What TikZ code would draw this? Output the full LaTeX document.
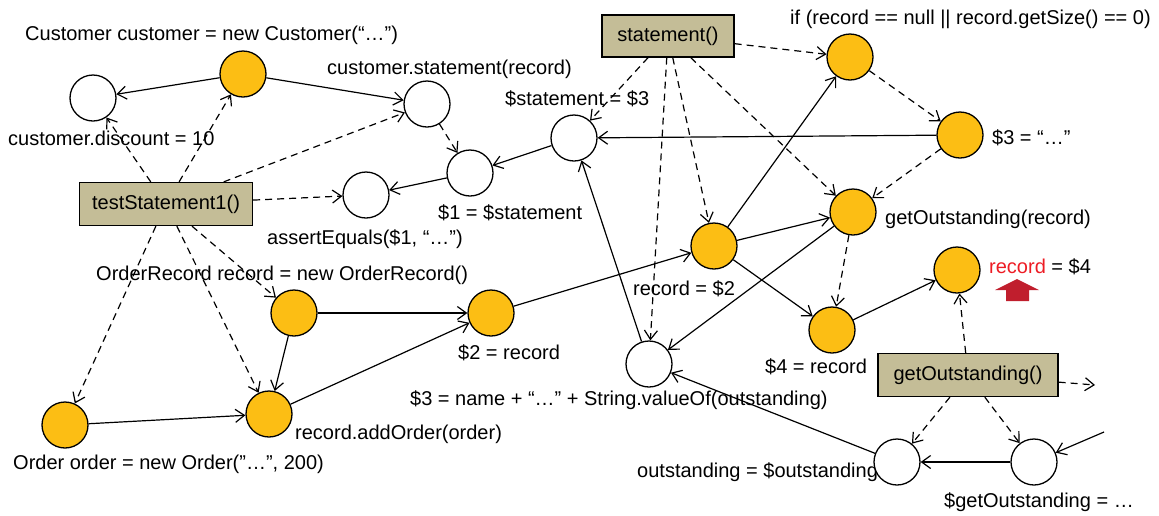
\documentclass[tikz,border=0pt]{standalone}
\usepackage{fontspec}
\setmainfont{Liberation Sans}
\usetikzlibrary{arrows.meta}
\definecolor{orng}{RGB}{252,190,20}
\definecolor{boxtan}{RGB}{196,189,151}
\definecolor{redtxt}{RGB}{237,28,36}
\definecolor{redarr}{RGB}{192,30,45}
\begin{document}
\begin{tikzpicture}[x=1pt,y=-1pt,
  font=\fontsize{20}{24}\selectfont,
  wc/.style={circle,draw,line width=1.3pt,fill=white,minimum size=46pt,inner sep=0pt},
  oc/.style={wc,fill=orng},
  mbox/.style={draw,line width=1.3pt,fill=boxtan,inner sep=0pt,minimum height=43pt},
  lbl/.style={anchor=base west,inner sep=0pt},
  sol/.style={line width=1.2pt,-{Straight Barb[length=9pt,width=13pt]}},
  dsh/.style={sol,dash pattern=on 7pt off 5pt}
]
\useasboundingbox (0,0) rectangle (1159,515);
% labels
\node[lbl] (t1) at (25,40) {Customer customer = new Customer(“…”)};
\node[lbl] (t2) at (8,145) {customer.discount = 10};
\node[lbl] (t3) at (327,74) {customer.statement(record)};
\node[lbl] (t4) at (505,105) {\$statement = \$3};
\node[lbl] (t5) at (438,219) {\$1 = \$statement};
\node[lbl] (t6) at (267,244) {assertEquals(\$1, “…”)};
\node[lbl] (t7) at (790,24) {if (record == null || record.getSize() == 0)};
\node[lbl] (t8) at (992,144) {\$3 = “…”};
\node[lbl] (t9) at (885,224) {getOutstanding(record)};
\node[lbl] (t10) at (96,280) {OrderRecord record = new OrderRecord()};
\node[lbl] (t11) at (458,359) {\$2 = record};
\node[lbl] (t12) at (633,295) {record = \$2};
\node[lbl] (t13) at (295,439) {record.addOrder(order)};
\node[lbl] (t14) at (13,469) {Order order = new Order(”…”, 200)};
\node[lbl] (t15) at (410,405) {\$3 = name + “…” + String.valueOf(outstanding)};
\node[lbl] (t16) at (765,373) {\$4 = record};
\node[lbl] (t17) at (989,273) {\textcolor{redtxt}{record} = \$4};
\node[lbl] (t18) at (637,477) {outstanding = \$outstanding};
\node[lbl] (t19) at (944,507) {\$getOutstanding = …};
% red arrow
\fill[redarr] (995,290) -- (1017,279) -- (1039,290) -- (1029,290) -- (1029,301) -- (1006,301) -- (1006,290) -- cycle;
% circles
\node[wc] (c1) at (93,98) {};
\node[oc] (c2) at (243,74) {};
\node[wc] (c3) at (427,104) {};
\node[wc] (c4) at (470,173) {};
\node[wc] (c5) at (366,195) {};
\node[wc] (c6) at (574,138) {};
\node[oc] (c7) at (294,313) {};
\node[oc] (c8) at (491,313) {};
\node[oc] (c9) at (269,414) {};
\node[oc] (c10) at (65,425) {};
\node[oc] (c11) at (714,246) {};
\node[wc] (c12) at (649,364) {};
\node[oc] (c13) at (850,57) {};
\node[oc] (c14) at (960,135) {};
\node[oc] (c15) at (853,212) {};
\node[oc] (c16) at (832,330) {};
\node[oc] (c17) at (957,270) {};
\node[wc] (c18) at (897,462) {};
\node[wc] (c19) at (1034,462) {};
% boxes
\node[mbox,minimum width=173pt] (b1) at (166,204) {testStatement1()};
\node[mbox,minimum width=132pt,minimum height=42pt] (b2) at (668,36) {statement()};
\node[mbox,minimum width=180pt] (b3) at (968,375) {getOutstanding()};
\coordinate (e1) at (1095,385);
\coordinate (e2) at (1104,432);
% solid edges
\draw[sol] (c2) -- (c1);
\draw[sol] (c2) -- (c3);
\draw[sol] (c6) -- (c4);
\draw[sol] (c4) -- (c5);
\draw[sol] (c14) -- (c6);
\draw[sol] (c11) -- (c13);
\draw[sol] (c11) -- (c15);
\draw[sol] (c11) -- (c16);
\draw[sol] (c15) -- (c12);
\draw[sol] (c12) -- (c6);
\draw[sol] (c16) -- (c17);
\draw[sol] (c7) -- (c8);
\draw[sol] (c7) -- (c9);
\draw[sol] (c9) -- (c8);
\draw[sol] (c10) -- (c9);
\draw[sol] (c8) -- (c11);
\draw[sol] (c18) -- (c12);
\draw[sol] (c19) -- (c18);
\draw[sol] (e2) -- (c19);
% dashed edges
\draw[dsh] (b1) -- (c1);
\draw[dsh] (b1) -- (c2);
\draw[dsh] (b1) -- (c3);
\draw[dsh] (b1) -- (c5);
\draw[dsh] (b1) -- (c7);
\draw[dsh] (b1) -- (c9);
\draw[dsh] (b1) -- (c10);
\draw[dsh] (c3) -- (c4);
\draw[dsh] (b2) -- (c6);
\draw[dsh] (b2) -- (c12);
\draw[dsh] (b2) -- (c11);
\draw[dsh] (b2) -- (c15);
\draw[dsh] (b2) -- (c13);
\draw[dsh] (c13) -- (c14);
\draw[dsh] (c14) -- (c15);
\draw[dsh] (c15) -- (c16);
\draw[dsh] (b3) -- (c17);
\draw[dsh] (b3) -- (c18);
\draw[dsh] (b3) -- (c19);
\draw[dsh] (b3) -- (e1);
\end{tikzpicture}
\end{document}
